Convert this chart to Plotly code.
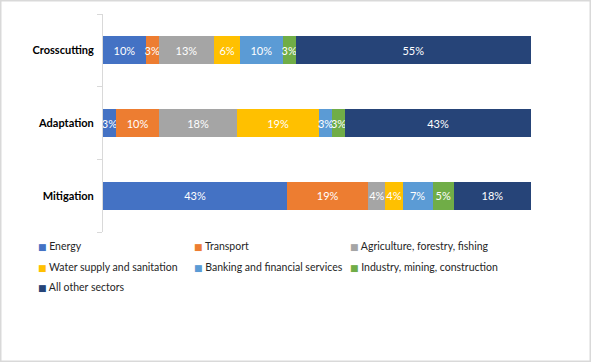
import plotly.graph_objects as go

categories = ["Mitigation", "Adaptation", "Crosscutting"]
sectors = ["Energy", "Transport", "Agriculture, forestry, fishing",
           "Water supply and sanitation", "Banking and financial services",
           "Industry, mining, construction", "All other sectors"]
# values per sector, ordered as categories (Mitigation, Adaptation, Crosscutting)
energy = [43, 3, 10]
transport = [19, 10, 3]
agriculture = [4, 18, 13]
water = [4, 19, 6]
banking = [7, 3, 10]
industry = [5, 3, 3]
other = [18, 43, 55]
series = [energy, transport, agriculture, water, banking, industry, other]
colors = ["#4472C4", "#ED7D31", "#A5A5A5", "#FFC000", "#5B9BD5", "#70AD47", "#264478"]

FONT = "Lato, 'Open Sans', sans-serif"
W, H = 591, 362
L, R, T, B = 103, 60, 14, 130
PW, PH = W - L - R, H - T - B

fig = go.Figure()
for name, vals, col in zip(sectors, series, colors):
    fig.add_trace(go.Bar(
        y=categories, x=vals, name=name, orientation="h",
        marker=dict(color=col, line=dict(width=0)),
        text=[f"{v}%" for v in vals], textposition="inside",
        insidetextanchor="middle", textangle=0,
        textfont=dict(color="white", size=11, family=FONT),
        hoverinfo="skip", showlegend=False,
    ))

# legend (3 columns) as real text entries with coloured swatches
LEG_X0, LEG_DX, LEG_Y0, LEG_DY = 36, 156, 246, 20.5
for i, (name, col) in enumerate(zip(sectors, colors)):
    c, r = i % 3, i // 3
    px = LEG_X0 + c * LEG_DX
    py = LEG_Y0 + r * LEG_DY
    fig.add_annotation(
        xref="paper", yref="paper",
        x=(px - L) / PW, y=(T + PH - py) / PH,
        xanchor="left", yanchor="middle", showarrow=False,
        text=f"<span style='color:{col}; font-family:DejaVu Sans; font-size:9px'>■</span> {name}",
        font=dict(family=FONT, size=10.5, color="#262626"),
    )

fig.update_layout(
    barmode="stack", barnorm="percent", bargap=0.615,
    width=W, height=H,
    margin=dict(l=L, r=R, t=T, b=B, autoexpand=False),
    paper_bgcolor="white", plot_bgcolor="white",
    font=dict(family=FONT, size=11, color="#000000"),
    uniformtext=dict(minsize=11, mode="show"),
    showlegend=False,
    xaxis=dict(range=[0, 100], visible=False, showgrid=False, zeroline=False),
    yaxis=dict(type="category", categoryorder="array", categoryarray=categories,
               showline=True, linecolor="#D9D9D9", linewidth=1,
               ticks="outside", tickson="boundaries", ticklen=5, tickcolor="#D9D9D9",
               ticklabelstandoff=6, automargin=False,
               tickfont=dict(family=FONT, size=11, color="#000000", weight="bold"),
               showgrid=False, zeroline=False),
)
# outer chart border, sized in pixels around the paper origin
fig.add_shape(type="rect", xref="paper", yref="paper",
              xsizemode="pixel", ysizemode="pixel", xanchor=0, yanchor=0,
              x0=-(L - 0.75), x1=PW + R - 0.75,
              y0=-(B - 0.75), y1=PH + T - 0.75,
              line=dict(color="#D9D9D9", width=1.5), layer="above")

fig.write_html("out.html", config={"displayModeBar": False, "staticPlot": True})
with open("out.html", "r", encoding="utf-8") as f:
    html = f.read()
html = html.replace("<head>", "<head><style>html,body{margin:0;padding:0;overflow:hidden;}</style>", 1)
with open("out.html", "w", encoding="utf-8") as f:
    f.write(html)
